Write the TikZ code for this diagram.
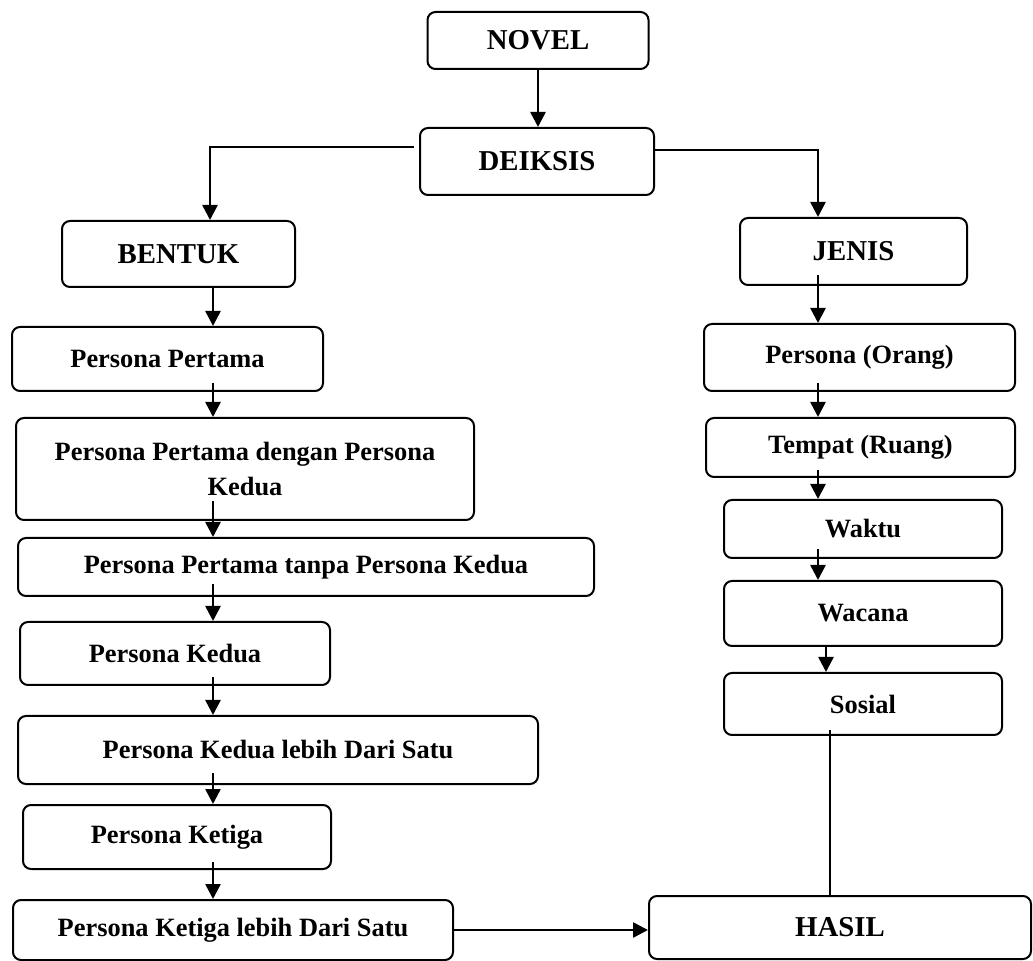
\documentclass[tikz,border=0pt]{standalone}
\usepackage{fontspec}
\setmainfont{Liberation Serif}
\usetikzlibrary{arrows.meta,calc}

\begin{document}
\begin{tikzpicture}[x=0.5pt, y=-0.5pt, line width=1.3pt,
    box/.style={draw, rounded corners=4pt, line width=1pt, align=center, inner sep=0pt,
      font=\bfseries\fontsize{13.2}{17.5}\selectfont},
    head/.style={box, font=\bfseries\fontsize{14.4}{17}\selectfont},
    arrow/.style={-{Triangle[width=7.5pt,length=7.5pt]}}]
  \useasboundingbox (0,0) rectangle (1033,961);
  \node[head, minimum width=110.5pt, minimum height=28.5pt] (novel) at (538,40.5) {NOVEL};
  \node[head, minimum width=117pt, minimum height=33.5pt] (deiksis) at (537,161.5) {DEIKSIS};
  \node[head, minimum width=116.5pt, minimum height=33pt] (bentuk) at (178.5,254) {BENTUK};
  \node[head, minimum width=113.5pt, minimum height=33.5pt] (jenis) at (853.5,251.5) {JENIS};
  \node[box, minimum width=155.5pt, minimum height=32pt] (pp) at (167.5,359) {Persona Pertama};
  \node[box, minimum width=229pt, minimum height=51pt] (ppk) at (245,469) {Persona Pertama dengan Persona\\Kedua};
  \node[box, minimum width=288pt, minimum height=29pt] (ppt) at (306,567) {Persona Pertama tanpa Persona Kedua};
  \node[box, minimum width=155pt, minimum height=31.5pt] (pk) at (175,653.5) {Persona Kedua};
  \node[box, minimum width=260pt, minimum height=34pt] (pkl) at (278,750) {Persona Kedua lebih Dari Satu};
  \node[box, minimum width=154pt, minimum height=32pt] (pkt) at (177,837) {Persona Ketiga};
  \node[box, minimum width=220pt, minimum height=30pt] (pktl) at (233,930) {Persona Ketiga lebih Dari Satu};
  \node[box, minimum width=155.5pt, minimum height=33.5pt] (orang) at (859.5,357.5) {Persona (Orang)};
  \node[box, minimum width=154.5pt, minimum height=29.5pt] (ruang) at (860.5,447.5) {Tempat (Ruang)};
  \node[box, minimum width=139pt, minimum height=29pt] (waktu) at (863,529) {Waktu};
  \node[box, minimum width=139pt, minimum height=32.5pt] (wacana) at (863,613.5) {Wacana};
  \node[box, minimum width=139pt, minimum height=31pt] (sosial) at (863,704) {Sosial};
  \node[head, minimum width=191pt, minimum height=31.5pt] (hasil) at (840,927.5) {HASIL};

  \coordinate (lx) at (213,0);
  \coordinate (rx) at (818,0);

  \draw[arrow] (novel) -- (novel |- deiksis.north);
  \draw[arrow] ($(deiksis.west)+(-5,-14.5)$) -| ($(bentuk.north)+(31.5,0)$);
  \draw[arrow] ($(deiksis.east)+(0,-11.5)$) -| ($(jenis.north)+(-35.5,0)$);
  \foreach \a/\b/\d in {bentuk/pp/0, pp/ppk/9, ppk/ppt/20, ppt/pk/13, pk/pkl/9, pkl/pkt/12, pkt/pktl/8}
    \draw[arrow] ($(\a.south -| lx)+(0,-\d)$) -- (\b.north -| lx);
  \foreach \a/\b/\d in {jenis/orang/11, orang/ruang/9, ruang/waktu/8, waktu/wacana/10}
    \draw[arrow] ($(\a.south -| rx)+(0,-\d)$) -- (\b.north -| rx);
  \draw[arrow] ($(wacana.south)+(-37,-2)$) -- ($(sosial.north)+(-37,0)$);
  \draw ($(sosial.south)+(-33,-6)$) coordinate (s) -- (s |- hasil.north);
  \draw[arrow] (pktl.east) -- (pktl.east -| hasil.west);
\end{tikzpicture}
\end{document}
